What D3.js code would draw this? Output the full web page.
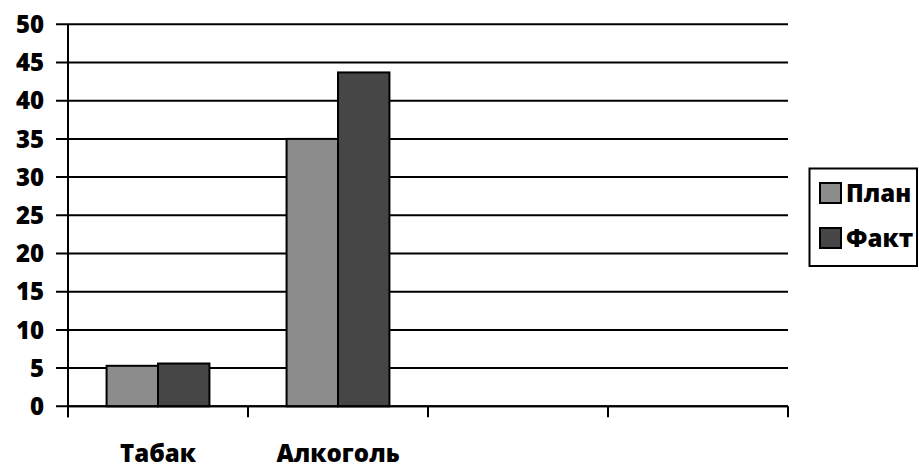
<!DOCTYPE html>
<html><head><meta charset="utf-8">
<script src="https://cdn.jsdelivr.net/npm/d3@7"></script>
<style>body{margin:0;background:#fff}svg{display:block}text{font-family:"Open Sans",sans-serif;font-weight:800;fill:#000}</style>
</head><body><svg id="c" width="919" height="468"></svg>
<script>
const categories = ["Табак", "Алкоголь", "", ""];
const seriesNames = ["План", "Факт"];
const planValues = [5.3, 35];
const factValues = [5.6, 43.7];
const yTicks = [0, 5, 10, 15, 20, 25, 30, 35, 40, 45, 50];
const colors = ["#8c8c8c", "#464646"];

const svg = d3.select("#c");
const pLeft = 68, pRight = 788, pTop = 24.3, pBottom = 406.3;
const x = d3.scaleBand().domain(d3.range(categories.length)).range([pLeft, pRight]).paddingInner(0).paddingOuter(0);
const y = d3.scaleLinear().domain([0, 50]).range([pBottom, pTop]);
const barW = x.bandwidth() / 3.5;

// gridlines
svg.append("g").selectAll("line").data(yTicks).join("line")
  .attr("x1", pLeft - 12).attr("x2", pRight)
  .attr("y1", d => y(d)).attr("y2", d => y(d))
  .attr("stroke", "#000").attr("stroke-width", 2);

// y labels
svg.append("g").selectAll("text").data(yTicks).join("text")
  .attr("x", 44).attr("y", d => y(d)).attr("dy", "0.36em")
  .attr("text-anchor", "end").attr("font-size", 24).text(d => d);

// bars
const series = [planValues, factValues];
series.forEach((vals, si) => {
  svg.append("g").selectAll("rect").data(vals).join("rect")
    .attr("x", (d, i) => x(i) + x.bandwidth() / 2 - barW + si * barW)
    .attr("y", d => y(d))
    .attr("width", barW)
    .attr("height", d => y(0) - y(d))
    .attr("fill", colors[si]).attr("stroke", "#000").attr("stroke-width", 2);
});

// axes lines
svg.append("line").attr("x1", pLeft).attr("x2", pLeft).attr("y1", pTop).attr("y2", pBottom + 11)
  .attr("stroke", "#000").attr("stroke-width", 2);
svg.append("line").attr("x1", pLeft).attr("x2", pRight).attr("y1", pBottom).attr("y2", pBottom)
  .attr("stroke", "#000").attr("stroke-width", 2);
const xt = d3.range(categories.length + 1).map(i => i < categories.length ? x(i) : pRight);
svg.append("g").selectAll("line").data(xt).join("line")
  .attr("x1", d => d).attr("x2", d => d).attr("y1", pBottom).attr("y2", pBottom + 11)
  .attr("stroke", "#000").attr("stroke-width", 2);

// category labels
svg.append("g").selectAll("text").data(categories).join("text")
  .attr("x", (d, i) => x(i) + x.bandwidth() / 2).attr("y", 462)
  .attr("text-anchor", "middle").attr("font-size", 24).text(d => d);

// legend
const lg = svg.append("g");
lg.append("rect").attr("x", 809.5).attr("y", 168.5).attr("width", 107.5).attr("height", 97.5)
  .attr("fill", "#fff").attr("stroke", "#000").attr("stroke-width", 2);
seriesNames.forEach((n, i) => {
  const yy = 183 + i * 45;
  lg.append("rect").attr("x", 820).attr("y", yy).attr("width", 21).attr("height", 20)
    .attr("fill", colors[i]).attr("stroke", "#000").attr("stroke-width", 2);
  lg.append("text").attr("x", 846).attr("y", yy + 19).attr("font-size", 24).text(n);
});
</script></body></html>
